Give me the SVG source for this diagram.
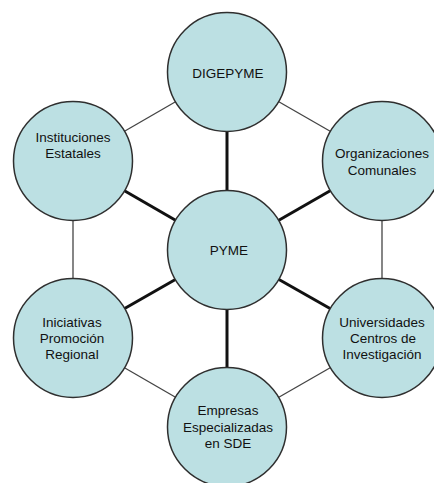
<svg xmlns="http://www.w3.org/2000/svg" width="434" height="483" viewBox="0 0 434 483">
<style>
.node circle{fill:#BCE0E3;stroke:#2f2f2f;stroke-width:1.5}
.node text{font-family:"Liberation Sans",Arial,sans-serif;font-size:13.5px;fill:#111;text-anchor:middle}
.spoke{stroke:#111;stroke-width:3;fill:none}
.rim{stroke:#444;stroke-width:1.3;fill:none}
</style>
<rect width="434" height="483" fill="#fff"/>
<g id="connectors">
<line class="rim" x1="227" y1="72" x2="73" y2="161"/>
<line class="rim" x1="227" y1="72" x2="382" y2="161"/>
<line class="rim" x1="73" y1="161" x2="73" y2="338"/>
<line class="rim" x1="382" y1="161" x2="382" y2="338"/>
<line class="rim" x1="73" y1="338" x2="227" y2="427"/>
<line class="rim" x1="382" y1="338" x2="227" y2="427"/>
<line class="spoke" x1="227" y1="250" x2="227" y2="72"/>
<line class="spoke" x1="227" y1="250" x2="73" y2="161"/>
<line class="spoke" x1="227" y1="250" x2="382" y2="161"/>
<line class="spoke" x1="227" y1="250" x2="73" y2="338"/>
<line class="spoke" x1="227" y1="250" x2="382" y2="338"/>
<line class="spoke" x1="227" y1="250" x2="227" y2="427"/>
</g>
<g id="digepyme" class="node"><circle cx="227" cy="72" r="59.5"/><text x="228" y="78">DIGEPYME</text></g>
<g id="instituciones" class="node"><circle cx="73" cy="161" r="59.5"/><text x="73" y="142">Instituciones</text><text x="73" y="158">Estatales</text></g>
<g id="organizaciones" class="node"><circle cx="382" cy="161" r="59.5"/><text x="382" y="158">Organizaciones</text><text x="382" y="175">Comunales</text></g>
<g id="pyme" class="node"><circle cx="227" cy="250" r="59.5"/><text x="229" y="255">PYME</text></g>
<g id="iniciativas" class="node"><circle cx="73" cy="338" r="59.5"/><text x="72" y="327">Iniciativas</text><text x="72" y="343">Promoción</text><text x="72" y="359">Regional</text></g>
<g id="universidades" class="node"><circle cx="382" cy="338" r="59.5"/><text x="382" y="327">Universidades</text><text x="383" y="343">Centros de</text><text x="382" y="359">Investigación</text></g>
<g id="empresas" class="node"><circle cx="227" cy="427" r="59.5"/><text x="228" y="415">Empresas</text><text x="228" y="432">Especializadas</text><text x="228" y="448">en SDE</text></g>
</svg>
